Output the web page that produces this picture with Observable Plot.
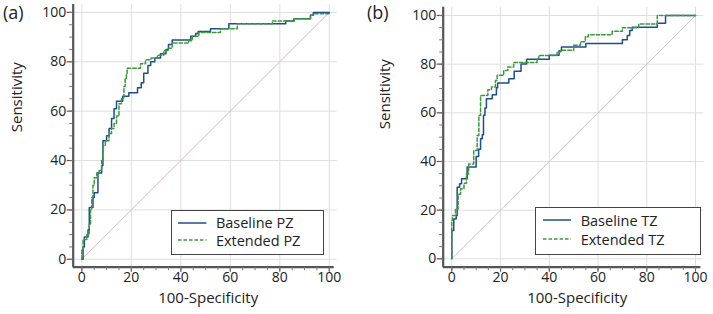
<!DOCTYPE html>
<html><head><meta charset="utf-8">
<script src="https://cdn.jsdelivr.net/npm/d3@7"></script>
<script src="https://cdn.jsdelivr.net/npm/@observablehq/plot@0.6"></script>
<style>
html,body{margin:0;padding:0;background:#fff;}
#root{position:relative;width:713px;height:314px;font-family:"Open Sans",sans-serif;overflow:hidden;}
.panel{position:absolute;top:0;}
.tag{position:absolute;font-size:18px;color:#222;line-height:1;}
.legend{position:absolute;border:1.5px solid #444;background:#fff;box-sizing:border-box;font-size:14.5px;color:#222;}
.row{display:flex;align-items:center;white-space:nowrap;}
.row svg{display:block;flex:none;}
</style>
</head><body>
<div id="root"></div>
<script>
// ---- data: ROC step corners [100-Specificity where the step happens, Sensitivity after the step]
const majorTicks = [0, 20, 40, 60, 80, 100];
const minorTicks = [0,5,10,15,20,25,30,35,40,45,50,55,60,65,70,75,80,85,90,95,100];
const diagonal = [[0,0],[100,100]];

const pzBaseline = [[0,0],[0.5,5],[1,9],[2.5,12],[3,21],[4.5,25],[5,27],[6.5,35],[8,38],[8.5,48],[10,50],[11,53],[12,57],[13,61],[14,64],[16.5,66],[19,67.5],[22.5,69.5],[24,71.5],[25,75.4],[26.7,78.5],[27.8,80],[29.5,81.5],[31.8,83.3],[34,85],[35,87],[36.5,88.8],[44,90.3],[46,91.5],[47,92.3],[52,93.4],[59.4,95.4],[82.4,96.5],[85.8,97.4],[92.4,98.8],[93.6,100],[100,100]];
const pzExtended = [[0,0],[0,4],[0.5,8],[2,10],[3,14],[3.5,20],[4,25],[4.5,30],[5,33],[6,35],[7,36],[8,40],[8.5,46],[9.5,48],[11,51],[12,53],[13,55],[14,58],[15,63],[16,65],[17,70],[17.5,73],[18,75],[18.3,77.4],[23.7,79.2],[25.7,80.8],[28,81.5],[30.5,82.6],[33.1,84.6],[35,85.5],[36.5,87.6],[43.2,88.5],[44.6,90.3],[47.3,91.9],[56,93.4],[62.8,95.4],[77,96.5],[85.8,97.4],[92.4,98.8],[93.4,99.5],[100,100]];

const tzBaseline = [[0,0],[0,11.6],[0.8,16.4],[1.8,17.8],[2.2,29.4],[3.2,30.8],[4,32.9],[6.3,37.7],[10,42],[11,45],[11.8,49.3],[12.5,51],[13,59],[13.6,62],[14.2,65.8],[16.6,67.4],[18.3,70.3],[18.8,72.2],[23.4,74],[25.6,77.1],[28.4,80.1],[30.7,82],[40,83.7],[44,85.5],[45,87],[55,88.5],[70,90],[72,91.8],[73,93.8],[74,95.2],[84.3,96.8],[87.7,100],[100,100]];
const tzExtended = [[0,0],[0,15.8],[0.3,17.8],[1.5,20.5],[2.6,26.5],[3.6,28.8],[5,31],[6,34.9],[6.9,39],[9,44.5],[10.4,50.7],[11.1,58.9],[11.8,67.1],[14.8,69.5],[16.3,70.6],[17.9,73.3],[18.6,75.4],[21.3,77.4],[23,78.8],[25.4,80.7],[35,82.2],[35.7,83.6],[43.2,85],[44.6,85.7],[50,87.8],[52.8,89.2],[54.8,91.3],[56,92.1],[65.8,93.5],[70,95],[76.7,96.5],[84.3,100],[100,100]];

const panelTags = ["(a)", "(b)"];
const seriesNames = [["Baseline PZ", "Extended PZ"], ["Baseline TZ", "Extended TZ"]];
const xTitle = "100-Specificity";
const yTitle = "Sensitivity";
const blue = "#1f4e8c", green = "#3c9a3c";

function rocPanel(o) {
  return Plot.plot({
    width: o.width, height: 314,
    marginLeft: o.ml, marginRight: o.mr, marginTop: o.mt, marginBottom: 47.3,
    style: {fontFamily: '"Open Sans", sans-serif', fontSize: "14px", color: "#222", background: "#fff"},
    x: {domain: o.xd, axis: null},
    y: {domain: o.yd, axis: null},
    marks: [
      Plot.gridX(majorTicks, {stroke: "#dedede", strokeOpacity: 1, strokeWidth: 1}),
      Plot.gridY(majorTicks, {stroke: "#dedede", strokeOpacity: 1, strokeWidth: 1}),
      Plot.line(diagonal, {x: d => d[0], y: d => d[1], stroke: o.diag, strokeWidth: 0.9}),
      Plot.line(o.base, {x: d => d[0], y: d => d[1], curve: "step-after", stroke: blue, strokeWidth: 1.5}),
      Plot.line(o.ext, {x: d => d[0], y: d => d[1], curve: "step-after", stroke: green, strokeWidth: 1.5, strokeDasharray: "3.5,2"}),
      Plot.ruleX([o.xd[0]], {stroke: "#555", strokeWidth: 2.2}),
      Plot.ruleY([o.yd[0]], {stroke: "#555", strokeWidth: 2.2, x1: o.xd[0], x2: o.xd[1] - 1.2}),
      Plot.axisX(majorTicks, {anchor: "bottom", tickSize: 5, tickPadding: 0, stroke: "#555", strokeWidth: 1.2, label: null, fontSize: 14}),
      Plot.axisX(minorTicks, {anchor: "bottom", tickSize: 3.5, text: null, stroke: "#777", label: null}),
      Plot.axisY(majorTicks, {anchor: "left", tickSize: 6, tickPadding: 1, stroke: "#555", strokeWidth: 1.2, label: null, fontSize: 14}),
      Plot.axisY(minorTicks, {anchor: "left", tickSize: 3.5, text: null, stroke: "#777", label: null}),
      Plot.text([xTitle], {frameAnchor: "bottom", dx: o.xdx, dy: 36, fontSize: 15, fill: "#222"}),
      Plot.text([yTitle], {frameAnchor: "left", rotate: -90, dx: o.ydx, dy: o.ydy, fontSize: 15, fill: "#222"})
    ]
  });
}

function legendBox(names, b) {
  const box = document.createElement("div");
  box.className = "legend";
  Object.assign(box.style, {left: b.left + "px", top: b.top + "px", width: b.w + "px", height: b.h + "px", paddingTop: b.pt + "px"});
  [[blue, null], [green, "3.5,2"]].forEach(([c, dash], i) => {
    const r = document.createElement("div");
    r.className = "row";
    r.style.height = b.rh + "px";
    r.style.paddingLeft = b.pl + "px";
    r.innerHTML = `<svg width="28.4" height="4"><line x1="0" x2="28.4" y1="2" y2="2" stroke="${c}" stroke-width="1.5" ${dash ? `stroke-dasharray="${dash}"` : ""}/></svg><span style="margin-left:${b.gap}px">${names[i]}</span>`;
    box.appendChild(r);
  });
  return box;
}

const root = document.getElementById("root");
const cfg = [
  {left: 0, width: 356, ml: 72.7, mr: 19.3, mt: 4, xd: [-3.5, 103.2], yd: [-3.2, 103.2], base: pzBaseline, ext: pzExtended, diag: "#cdb3b3", xdx: 3, ydx: -55.7, ydy: -3.6,
   tag: {x: 3, y: 3}, leg: {left: 170.7, top: 209.5, w: 153.5, h: 45, pt: 3.5, rh: 17.5, pl: 6.5, gap: 9.3}},
  {left: 356, width: 357, ml: 86.7, mr: 9.7, mt: 6.7, xd: [-3.53, 103.4], yd: [-3.45, 103.4], base: tzBaseline, ext: tzExtended, diag: "#c4c4c4", xdx: 3.7, ydx: -57.7, ydy: -8,
   tag: {x: 367, y: 3}, leg: {left: 535, top: 206.5, w: 165.5, h: 48, pt: 3, rh: 19, pl: 7, gap: 9.3}}
];
cfg.forEach((c, i) => {
  const wrap = document.createElement("div");
  wrap.className = "panel";
  wrap.style.left = c.left + "px";
  wrap.appendChild(rocPanel(c));
  root.appendChild(wrap);
  const t = document.createElement("div");
  t.className = "tag";
  t.style.left = c.tag.x + "px";
  t.style.top = c.tag.y + "px";
  t.textContent = panelTags[i];
  root.appendChild(t);
  root.appendChild(legendBox(seriesNames[i], c.leg));
});
</script>
</body></html>
